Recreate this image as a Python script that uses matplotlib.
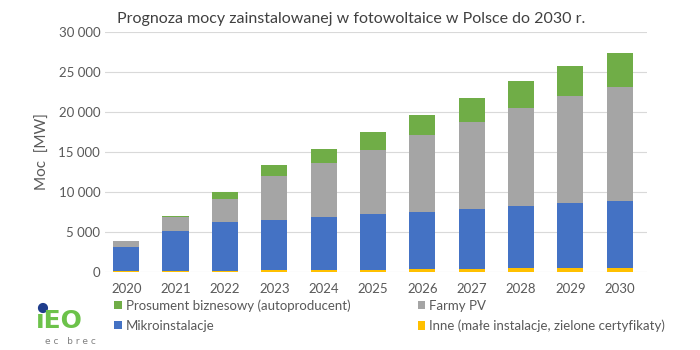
import matplotlib.pyplot as plt
from matplotlib.patches import Ellipse
import numpy as np

plt.rcParams['font.family'] = ['Lato', 'DejaVu Sans']

years = ['2020', '2021', '2022', '2023', '2024', '2025', '2026', '2027', '2028', '2029', '2030']
inne = [100, 100, 150, 200, 250, 300, 350, 400, 450, 500, 550]
mikro = [2990, 5040, 6030, 6280, 6650, 6890, 7170, 7500, 7740, 8110, 8310]
farmy = [750, 1670, 2890, 5560, 6680, 8060, 9570, 10860, 12240, 13410, 14290]
prosument = [0, 170, 880, 1330, 1840, 2260, 2510, 2970, 3430, 3760, 4180]
yticks = [0, 5000, 10000, 15000, 20000, 25000, 30000]
ytick_labels = ['0', '5 000', '10 000', '15 000', '20 000', '25 000', '30 000']

txt = '#595959'
fig = plt.figure(figsize=(7, 3.5), dpi=100)
ax = fig.add_axes([0.15, 0.223, 0.774, 0.686])

x = np.arange(len(years))
w = 0.53
b1 = np.array(inne)
b2 = b1 + np.array(mikro)
b3 = b2 + np.array(farmy)
h_inne = ax.bar(x, inne, w, color='#FFC000', zorder=3)
h_mikro = ax.bar(x, mikro, w, bottom=b1, color='#4472C4', zorder=3)
h_farmy = ax.bar(x, farmy, w, bottom=b2, color='#A5A5A5', zorder=3)
h_pros = ax.bar(x, prosument, w, bottom=b3, color='#70AD47', zorder=3)

ax.set_xlim(-0.43, 10.55)
ax.set_ylim(0, 30000)
ax.set_yticks(yticks)
ax.set_yticklabels(ytick_labels)
ax.set_xticks(x)
ax.set_xticklabels(years)
ax.tick_params(length=0, colors=txt, labelsize=9.5)
ax.tick_params(axis='x', pad=8)
ax.grid(axis='y', color='#D9D9D9', linewidth=0.8, zorder=0)
for s in ax.spines.values():
    s.set_visible(False)
ax.set_ylabel('Moc  [MW]', color=txt, fontsize=11, labelpad=6)

fig.text(0.502, 0.945, 'Prognoza mocy zainstalowanej w fotowoltaice w Polsce do 2030 r.',
         ha='center', va='center', fontsize=11.5, color='#404040')

fig.legend([h_pros, h_mikro, h_farmy, h_inne],
           ['Prosument biznesowy (autoproducent)', 'Mikroinstalacje', 'Farmy PV',
            'Inne (małe instalacje, zielone certyfikaty)'],
           ncol=2, loc='upper left', bbox_to_anchor=(0.155, 0.16), frameon=False,
           fontsize=9.5, labelcolor=txt, handlelength=0.6, handleheight=0.6,
           handletextpad=0.3, columnspacing=5.1, labelspacing=0.6, borderaxespad=0)

# logo
fig.text(0.051, 0.063, 'ıEO', color='#6CC24A', fontsize=18, fontweight='bold',
         family='DejaVu Sans', ha='left', va='baseline')
fig.patches.append(Ellipse((0.0614, 0.12), 0.0125, 0.025, transform=fig.transFigure,
                           color='#1F3D8C', figure=fig))
fig.text(0.064, 0.025, 'e c   b r e c', color='#808080', fontsize=6.5,
         family='DejaVu Sans', ha='left', va='center')

fig.savefig('out.png', dpi=100, facecolor='white')
